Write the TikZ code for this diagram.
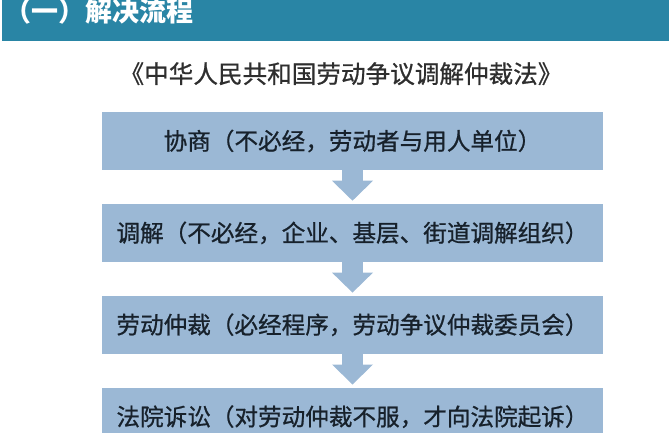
\documentclass[tikz,border=0pt]{standalone}
\usepackage{fontspec}
\newfontfamily\cjk{Noto Sans CJK SC}
\newfontfamily\cjkheavy{Noto Sans CJK SC}[FakeBold=0.8]
\usetikzlibrary{positioning,arrows.meta}

\definecolor{headteal}{HTML}{2985A5}
\definecolor{boxblue}{HTML}{9BB8D5}
\definecolor{boxtext}{HTML}{17212B}
\definecolor{subgray}{HTML}{2E2E2E}

\tikzset{
    stepbox/.style={fill=boxblue, minimum width=501pt, minimum height=58pt, inner sep=0pt, text=boxtext, font=\cjkheavy\fontsize{23.6}{28}\selectfont},
    flowarrow/.style={draw=boxblue, line width=21pt, -{Triangle[width=41pt,length=20pt,line width=0pt]}}
}

\begin{document}
\begin{tikzpicture}[x=1pt,y=-1pt]
    \useasboundingbox (0,0) rectangle (669,433);
    \clip (0,0) rectangle (669,433);
    
    % header band
    \path[fill=headteal] (2,0) rectangle (669,41);
    \node[anchor=base west, inner sep=0pt, text=white, font=\cjk\bfseries\fontsize{27}{30}\selectfont] (title) at (4,21.5) {（一）解决流程};
    
    % law name
    \node[anchor=base, inner sep=0pt, text=subgray, font=\cjkheavy\fontsize{24.6}{28}\selectfont] (law) at (341,83) {《中华人民共和国劳动争议调解仲裁法》};
    
    % steps
    \node[stepbox] (consult) at (352.5,141) {协商（不必经，劳动者与用人单位）};
    \node[stepbox, below=33.5pt of consult] (mediate) {调解（不必经，企业、基层、街道调解组织）};
    \node[stepbox, below=33.5pt of mediate] (arbitrate) {劳动仲裁（必经程序，劳动争议仲裁委员会）};
    \node[stepbox, below=33.5pt of arbitrate] (court) {法院诉讼（对劳动仲裁不服，才向法院起诉）};
    
    % arrows between steps
    \draw[flowarrow] (consult.south) -- ([yshift=3pt]mediate.north);
    \draw[flowarrow] (mediate.south) -- ([yshift=3pt]arbitrate.north);
    \draw[flowarrow] (arbitrate.south) -- ([yshift=3pt]court.north);
\end{tikzpicture}
\end{document}
